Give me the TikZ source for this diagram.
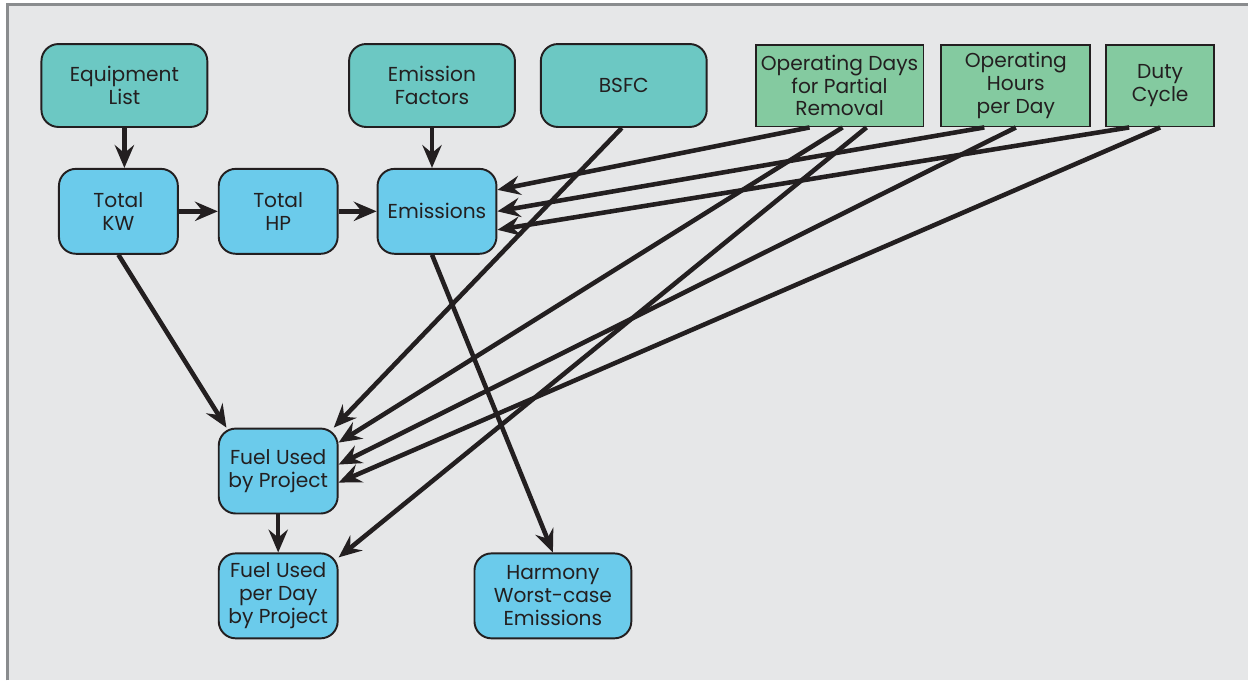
\documentclass[tikz,border=0pt]{standalone}
\usepackage{fontspec}
\setmainfont{Poppins}
\usetikzlibrary{shapes, arrows.meta, positioning, calc}
\definecolor{bggray}{HTML}{E6E7E8}
\definecolor{framegray}{HTML}{8A8C8E}
\definecolor{inkblack}{HTML}{231F20}
\definecolor{tealfill}{HTML}{6CC8C3}
\definecolor{bluefill}{HTML}{6BCBEB}
\definecolor{greenfill}{HTML}{84CAA0}
\tikzset{block/.style={draw=inkblack, line width=1.1pt, rounded corners=0.34cm, fill=bluefill,
            align=center, inner sep=2pt, minimum width=2.38cm, minimum height=1.7cm,
            text=inkblack, font=\fontsize{11.5}{13}\selectfont},
         input/.style={block, fill=tealfill, minimum width=3.32cm, minimum height=1.66cm},
         param/.style={block, rounded corners=0pt, fill=greenfill, minimum height=1.64cm},
         link/.style={draw=inkblack, line width=2.6pt,
            -{Stealth[length=13pt, width=11pt, inset=4.5pt]}}}

\begin{document}
\begin{tikzpicture}[node distance=0.8cm]
    % background and frame
    \fill[bggray] (0.15,-0.09) rectangle (24.98,-13.62);
    \draw[framegray, line width=1.2pt] (0.15,-13.62) -- (0.15,-0.09) -- (24.98,-0.09);
    \useasboundingbox (0,0) rectangle (24.98,-13.62);

    \node[block] (totalkw) at (2.37,-4.23) {Total\\KW};
    \node[block, right=0.78cm of totalkw] (totalhp) {Total\\HP};
    \node[block, right=0.76cm of totalhp] (emis) {Emissions};
    \node[input, above=of totalkw, xshift=0.12cm] (eqlist) {Equipment\\List};
    \node[input, above=of emis, xshift=-0.1cm] (emfac) {Emission\\Factors};
    \node[input, right=0.48cm of emfac] (bsfc) {BSFC};
    \node[param, right=0.94cm of bsfc, minimum width=3.36cm] (opdays) {Operating Days\\for Partial\\Removal};
    \node[param, right=0.32cm of opdays, minimum width=2.98cm] (ophours) {Operating\\Hours\\per Day};
    \node[param, right=0.28cm of ophours, minimum width=2.16cm] (duty) {Duty\\Cycle};
    \node[block, below=3.46cm of totalhp] (fuelproj) {Fuel Used\\by Project};
    \node[block, below=0.76cm of fuelproj] (fuelday) {Fuel Used\\per Day\\by Project};
    \node[block, right=2.7cm of fuelday, minimum width=3.14cm] (harmony) {Harmony\\Worst-case\\Emissions};

    \draw[link] (eqlist) -- (eqlist |- totalkw.north);
    \draw[link] (emfac) -- (emfac |- emis.north);
    \draw[link] (totalkw) -- (totalhp);
    \draw[link] (totalhp) -- (emis);
    \draw[link] (totalkw.south) -- (fuelproj.140);
    \draw[link] (fuelproj) -- (fuelday);
    \draw[link] ([xshift=-0.1cm]emis.south) -- (harmony.north);
    \draw[link] ([xshift=-0.04cm]bsfc.south) -- (fuelproj.38);

    % inputs from the operating parameters
    \draw[link] ([xshift=-0.6cm]opdays.south) -- ([yshift=0.43cm]emis.east);
    \draw[link] ([xshift=0.06cm]opdays.south) -- ([yshift=0.57cm]fuelproj.east);
    \draw[link] ([xshift=0.54cm]opdays.south) -- ([yshift=0.77cm]fuelday.east);
    \draw[link] ([xshift=-0.63cm]ophours.south) -- (emis.east);
    \draw[link] (ophours.south) -- ([yshift=0.13cm]fuelproj.east);
    \draw[link] ([xshift=-0.62cm]duty.south) -- ([yshift=-0.37cm]emis.east);
    \draw[link] (duty.south) -- ([yshift=-0.23cm]fuelproj.east);
\end{tikzpicture}
\end{document}
